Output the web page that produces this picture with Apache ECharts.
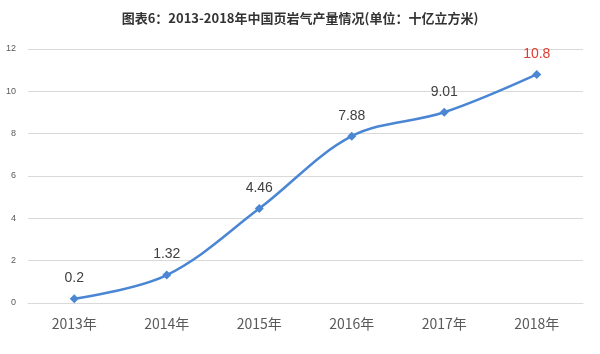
<!DOCTYPE html>
<html><head><meta charset="utf-8">
<script src="https://cdn.jsdelivr.net/npm/echarts@6/dist/echarts.min.js"></script>
<style>html,body{margin:0;padding:0;background:#fff}#c{width:600px;height:354px}</style>
</head><body><div id="c"></div>
<script>
var titleText = '图表6：2013-2018年中国页岩气产量情况(单位：十亿立方米)';
var categories = ['2013年','2014年','2015年','2016年','2017年','2018年'];
var values = [0.2, 1.32, 4.46, 7.88, 9.01, 10.8];
var valueLabels = ['0.2','1.32','4.46','7.88','9.01','10.8'];
var chart = echarts.init(document.getElementById('c'));
var data = values.map(function(v,i){
  var d = {value: v};
  if (i === values.length-1) d.label = {color:'#e03a2f'};
  return d;
});
chart.setOption({
  animation:false,
  title:{text:titleText,left:'center',top:7,textStyle:{fontSize:13,fontWeight:'bold',color:'#333',fontFamily:'Noto Sans CJK SC'}},
  grid:{left:28,right:17,top:49,bottom:51},
  xAxis:{type:'category',data:categories,boundaryGap:true,
    axisLine:{lineStyle:{color:'#d9d9d9'}},axisTick:{show:false},
    axisLabel:{color:'#595959',fontSize:14,margin:14,fontFamily:'Noto Sans CJK SC'}},
  yAxis:{type:'value',min:0,max:12,interval:2,
    axisLine:{show:false},axisTick:{show:false},
    axisLabel:{color:'#595959',fontSize:9,margin:12},
    splitLine:{lineStyle:{color:'#d9d9d9'}}},
  series:[{type:'line',data:data,smooth:0.35,
    symbol:'diamond',symbolSize:9,
    lineStyle:{color:'#4a86d3',width:2.5},
    itemStyle:{color:'#4a86d3'},
    label:{show:true,position:'top',distance:9,fontSize:14,color:'#404040',
      formatter:function(p){return valueLabels[p.dataIndex];}}}]
});
</script></body></html>
